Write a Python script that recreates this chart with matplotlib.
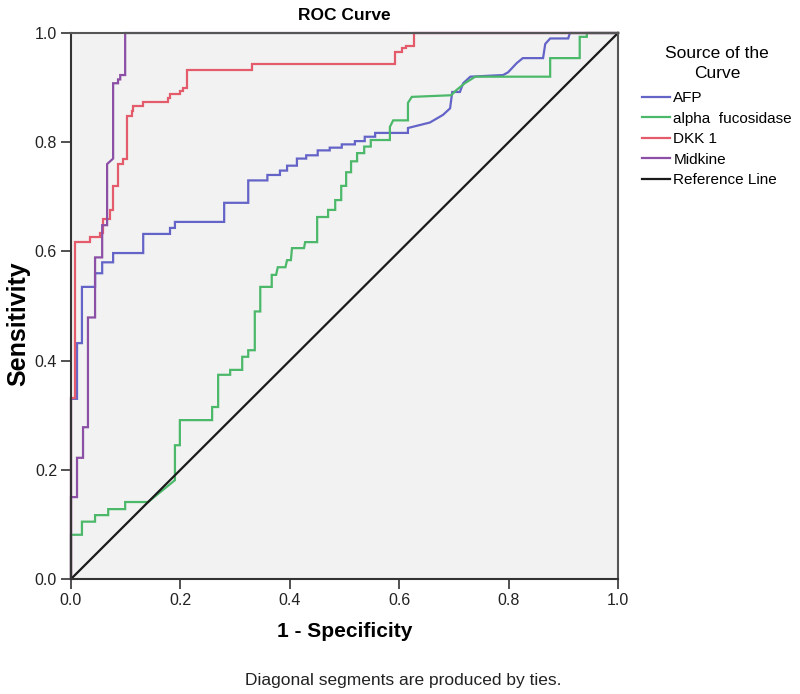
import matplotlib
matplotlib.use("Agg")
import matplotlib.pyplot as plt

plt.rcParams['font.family'] = ['Liberation Sans', 'DejaVu Sans']

# ---- data: ROC curve vertices (1 - specificity, sensitivity) ----
afp_fpr = [0, 0, 0.011, 0.011, 0.02, 0.02, 0.044, 0.044, 0.057, 0.057, 0.077, 0.077,
           0.132, 0.132, 0.181, 0.181, 0.19, 0.19, 0.28, 0.28, 0.324, 0.324, 0.359, 0.359,
           0.382, 0.382, 0.395, 0.395, 0.413, 0.413, 0.43, 0.43, 0.451, 0.451, 0.473, 0.473,
           0.495, 0.495, 0.519, 0.519, 0.537, 0.537, 0.556, 0.556, 0.616, 0.616, 0.656, 0.68,
           0.693, 0.697, 0.711, 0.717, 0.73, 0.79, 0.799, 0.815, 0.826, 0.863, 0.867, 0.876,
           0.909, 0.912, 1.0]
afp_tpr = [0, 0.33, 0.33, 0.432, 0.432, 0.535, 0.535, 0.56, 0.56, 0.58, 0.58, 0.597,
           0.597, 0.632, 0.632, 0.643, 0.643, 0.654, 0.654, 0.689, 0.689, 0.73, 0.73, 0.74,
           0.74, 0.748, 0.748, 0.757, 0.757, 0.77, 0.77, 0.776, 0.776, 0.785, 0.785, 0.79,
           0.79, 0.796, 0.796, 0.802, 0.802, 0.81, 0.81, 0.817, 0.817, 0.826, 0.836, 0.85,
           0.862, 0.892, 0.892, 0.908, 0.92, 0.923, 0.928, 0.945, 0.954, 0.954, 0.98, 0.99,
           0.99, 1.0, 1.0]

fuco_fpr = [0, 0, 0.02, 0.02, 0.044, 0.044, 0.068, 0.068, 0.099, 0.099, 0.141, 0.19,
            0.19, 0.199, 0.199, 0.258, 0.258, 0.269, 0.269, 0.291, 0.291, 0.313, 0.313,
            0.324, 0.324, 0.336, 0.336, 0.346, 0.346, 0.367, 0.367, 0.375, 0.378, 0.392,
            0.395, 0.402, 0.404, 0.426, 0.428, 0.45, 0.45, 0.47, 0.47, 0.483, 0.483, 0.494,
            0.494, 0.503, 0.503, 0.512, 0.512, 0.523, 0.523, 0.536, 0.536, 0.548, 0.548,
            0.583, 0.583, 0.589, 0.616, 0.616, 0.623, 0.695, 0.704, 0.72, 0.739, 0.876,
            0.876, 0.93, 0.93, 0.943, 0.943, 1.0]
fuco_tpr = [0, 0.081, 0.081, 0.105, 0.105, 0.117, 0.117, 0.128, 0.128, 0.141, 0.141, 0.181,
            0.245, 0.245, 0.291, 0.291, 0.315, 0.315, 0.374, 0.374, 0.383, 0.383, 0.407,
            0.407, 0.419, 0.419, 0.49, 0.49, 0.535, 0.535, 0.557, 0.557, 0.571, 0.571,
            0.584, 0.584, 0.606, 0.606, 0.617, 0.617, 0.663, 0.663, 0.676, 0.676, 0.694, 0.694,
            0.72, 0.72, 0.745, 0.745, 0.765, 0.765, 0.78, 0.78, 0.792, 0.792, 0.804,
            0.804, 0.828, 0.84, 0.84, 0.872, 0.883, 0.886, 0.895, 0.908, 0.92, 0.92,
            0.954, 0.954, 0.993, 0.993, 1.0, 1.0]

dkk1_fpr = [0, 0, 0.007, 0.007, 0.035, 0.035, 0.053, 0.053, 0.059, 0.059, 0.071, 0.071,
            0.077, 0.077, 0.086, 0.086, 0.095, 0.095, 0.102, 0.102, 0.112, 0.112, 0.114,
            0.114, 0.132, 0.132, 0.177, 0.177, 0.181, 0.181, 0.199, 0.199, 0.205, 0.205,
            0.212, 0.212, 0.331, 0.331, 0.592, 0.592, 0.605, 0.605, 0.612, 0.612, 0.627,
            0.627, 1.0]
dkk1_tpr = [0, 0.332, 0.332, 0.617, 0.617, 0.626, 0.626, 0.634, 0.634, 0.66, 0.66, 0.675,
            0.675, 0.72, 0.72, 0.76, 0.76, 0.77, 0.77, 0.848, 0.848, 0.857, 0.857,
            0.866, 0.866, 0.873, 0.873, 0.881, 0.881, 0.888, 0.888, 0.894, 0.894, 0.9,
            0.9, 0.932, 0.932, 0.943, 0.943, 0.965, 0.965, 0.972, 0.972, 0.976, 0.976,
            1.0, 1.0]

midk_fpr = [0, 0, 0.011, 0.011, 0.022, 0.022, 0.031, 0.031, 0.044, 0.044, 0.057, 0.057,
            0.066, 0.066, 0.077, 0.077, 0.086, 0.086, 0.09, 0.09, 0.099, 0.099, 1.0]
midk_tpr = [0, 0.15, 0.15, 0.222, 0.222, 0.278, 0.278, 0.479, 0.479, 0.589, 0.589, 0.648,
            0.648, 0.76, 0.77, 0.908, 0.908, 0.915, 0.915, 0.923, 0.923, 1.0, 1.0]

ref_x = [0, 1]
ref_y = [0, 1]

series_names = ["AFP", "alpha  fucosidase", "DKK 1", "Midkine", "Reference Line"]
series_colors = ["#6464c8", "#4cb86a", "#e45c6c", "#8c4fa6", "#1a1a1a"]
x_ticks = [0.0, 0.2, 0.4, 0.6, 0.8, 1.0]
y_ticks = [0.0, 0.2, 0.4, 0.6, 0.8, 1.0]

fig = plt.figure(figsize=(8, 6.94), dpi=100)
ax = fig.add_axes([71 / 800, 1 - 579 / 694, 547 / 800, 546 / 694])
ax.set_facecolor("#f2f2f2")

curves = [(afp_fpr, afp_tpr), (fuco_fpr, fuco_tpr), (dkk1_fpr, dkk1_tpr),
          (midk_fpr, midk_tpr), (ref_x, ref_y)]
handles = []
for (xs, ys), name, col in zip(curves, series_names, series_colors):
    ln, = ax.plot(xs, ys, color=col, lw=1.6, label=name, solid_joinstyle='miter',
                  clip_on=False)
    handles.append(ln)

ax.set_xlim(0, 1)
ax.set_ylim(0, 1)
ax.set_xticks(x_ticks)
ax.set_yticks(y_ticks)
ax.set_xticklabels([f"{t:.1f}" for t in x_ticks])
ax.set_yticklabels([f"{t:.1f}" for t in y_ticks])
ax.tick_params(direction='out', length=7, width=1.2, color='#333333',
               labelsize=11.5, labelcolor='#222222', pad=3)
for sp in ax.spines.values():
    sp.set_color('#555555')
    sp.set_linewidth(1.5)
ax.spines['left'].set_color('#333333')
ax.spines['bottom'].set_color('#333333')

ax.set_title("ROC Curve", fontsize=12.5, fontweight='bold', pad=9)
ax.set_xlabel("1 - Specificity", fontsize=15, fontweight='bold')
ax.xaxis.set_label_coords(0.5, -0.078)
ax.set_ylabel("Sensitivity", fontsize=18, fontweight='bold')
ax.yaxis.set_label_coords(-0.075, 0.467)

leg = ax.legend(handles=handles, title="Source of the\nCurve", loc='upper left',
                bbox_to_anchor=(636 / 800, 1 - 40 / 694), bbox_transform=fig.transFigure,
                frameon=False, fontsize=11, title_fontsize=12.5, handlelength=1.8,
                handletextpad=0.25, labelspacing=0.42, borderaxespad=0)
leg.get_title().set_multialignment('center')
leg.get_title().set_linespacing(1.4)
leg._legend_box.align = "center"
leg._legend_box.sep = 7.5

fig.text(403 / 800, 1 - 680 / 694, "Diagonal segments are produced by ties.",
         ha='center', va='center', fontsize=12.5, color='#222222')

fig.savefig("out.png", dpi=100)
